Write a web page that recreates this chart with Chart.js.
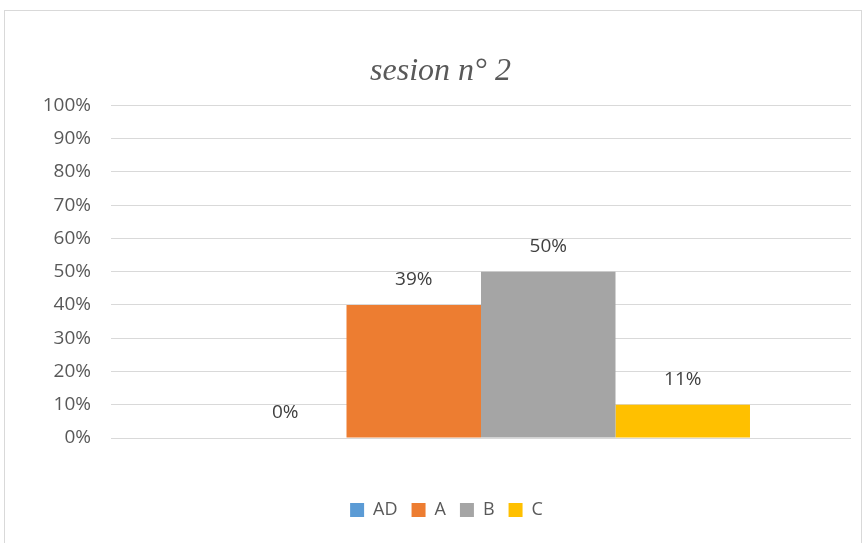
<!DOCTYPE html>
<html>
<head>
<meta charset="utf-8">
<script src="https://cdn.jsdelivr.net/npm/chart.js@4/dist/chart.umd.min.js"></script>
<style>
  html, body { margin: 0; padding: 0; background: #fff; overflow: hidden; }
  #frame { position: absolute; left: 4px; top: 10px; width: 856px; height: 540px; border: 1px solid #d9d9d9; }
  #wrap { position: absolute; left: 0; top: 0; width: 865px; height: 543px; }
</style>
</head>
<body>
<div id="frame"></div>
<div id="wrap"><canvas id="myChart" width="865" height="543"></canvas></div>
<script>
const categories = ['AD', 'A', 'B', 'C'];
const values = [0, 40, 50, 10];          // bar heights as drawn
const valueLabels = ['0%', '39%', '50%', '11%'];
const colors = ['#5b9bd5', '#ed7d31', '#a5a5a5', '#ffc000'];
const yTicks = [0, 10, 20, 30, 40, 50, 60, 70, 80, 90, 100];

// labels drawn first so the gridlines pass over them, like the original
const valueLabelPlugin = {
    id: 'valueLabels',
    afterLayout(chart) {
        // title and legend sit a bit right of centre in the original
        chart.legend.left += 21;
        chart.legend.right += 21;
        chart.titleBlock.left += 15;
        chart.titleBlock.right += 15;
    },
    beforeDraw(chart) {
        const c = chart.ctx;
        c.save();
        c.font = '19px "Open Sans"';
        c.fillStyle = '#404040';
        c.textAlign = 'center';
        c.textBaseline = 'middle';
        chart.data.datasets.forEach((ds, i) => {
            const bar = chart.getDatasetMeta(i).data[0];
            c.fillText(valueLabels[i], bar.x + (i === 0 ? 6 : 0), bar.y - 25);
        });
        c.restore();
    }
};

const ctx = document.getElementById('myChart');
new Chart(ctx, {
    type: 'bar',
    data: {
        labels: [''],
        datasets: categories.map((name, i) => ({
            label: name,
            data: [values[i]],
            backgroundColor: colors[i],
            categoryPercentage: 0.727,
            barPercentage: 1
        }))
    },
    options: {
        responsive: false,
        animation: false,
        layout: { padding: { left: 0, right: 14, top: 0, bottom: 14 } },
        scales: {
            x: {
                grid: { display: false },
                border: { display: false },
                ticks: { display: false },
                afterFit: (s) => { s.height = 49; }
            },
            y: {
                min: 0,
                max: 100,
                afterBuildTicks: (s) => { s.ticks = yTicks.map(v => ({ value: v })); },
                afterFit: (s) => { s.width = 111; },
                grid: { color: '#d9d9d9', lineWidth: 1, drawTicks: false },
                border: { display: false },
                ticks: {
                    padding: 20,
                    color: '#595959',
                    font: { family: 'Open Sans', size: 19 },
                    callback: v => v + '%'
                }
            }
        },
        plugins: {
            title: {
                display: true,
                text: 'sesion n° 2',
                color: '#595959',
                font: { family: 'Liberation Serif', size: 32, style: 'italic', weight: 'normal' },
                padding: { top: 52, bottom: 15 }
            },
            legend: {
                position: 'bottom',
                labels: {
                    boxWidth: 14,
                    boxHeight: 14,
                    padding: 14,
                    color: '#595959',
                    font: { family: 'Open Sans', size: 18 }
                }
            },
            tooltip: { enabled: false }
        }
    },
    plugins: [valueLabelPlugin]
});
</script>
</body>
</html>
